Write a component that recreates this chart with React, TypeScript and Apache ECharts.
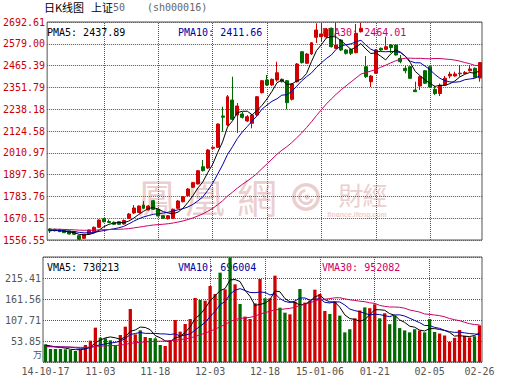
import React, { useEffect, useRef } from "react";
import * as echarts from "echarts";

const dates = [
  "2014-10-17", "2014-10-20", "2014-10-21", "2014-10-22", "2014-10-23", "2014-10-24", "2014-10-27", "2014-10-28", "2014-10-29", "2014-10-30", "2014-10-31",
  "2014-11-03", "2014-11-04", "2014-11-05", "2014-11-06", "2014-11-07", "2014-11-10", "2014-11-11", "2014-11-12", "2014-11-13", "2014-11-14",
  "2014-11-17", "2014-11-18", "2014-11-19", "2014-11-20", "2014-11-21", "2014-11-24", "2014-11-25", "2014-11-26", "2014-11-27", "2014-11-28",
  "2014-12-01", "2014-12-02", "2014-12-03", "2014-12-04", "2014-12-05", "2014-12-08", "2014-12-09", "2014-12-10", "2014-12-11", "2014-12-12",
  "2014-12-15", "2014-12-16", "2014-12-17", "2014-12-18", "2014-12-19", "2014-12-22", "2014-12-23", "2014-12-24", "2014-12-25", "2014-12-26",
  "2014-12-29", "2014-12-30", "2014-12-31", "2015-01-05", "2015-01-06", "2015-01-07", "2015-01-08", "2015-01-09", "2015-01-12", "2015-01-13",
  "2015-01-14", "2015-01-15", "2015-01-16", "2015-01-19", "2015-01-20", "2015-01-21", "2015-01-22", "2015-01-23", "2015-01-26", "2015-01-27",
  "2015-01-28", "2015-01-29", "2015-01-30", "2015-02-02", "2015-02-03", "2015-02-04", "2015-02-05", "2015-02-06", "2015-02-09", "2015-02-10",
  "2015-02-11", "2015-02-12", "2015-02-13", "2015-02-16", "2015-02-17", "2015-02-25", "2015-02-26",
];

const opens = [
  1613.9, 1612.3, 1612.3, 1608.7, 1603.5, 1599.8, 1579.0, 1565.4, 1587.8, 1599.8, 1622.7,
  1667.5, 1653.0, 1648.8, 1651.9, 1639.9, 1669.6, 1697.3, 1699.9, 1738.9, 1712.9,
  1761.4, 1716.5, 1683.2, 1667.5, 1669.6, 1721.8, 1756.1, 1787.4, 1831.2, 1848.4,
  1938.5, 1931.8, 2034.4, 2039.6, 2202.8, 2155.9, 2286.1, 2207.9, 2213.2, 2176.7,
  2164.7, 2207.9, 2324.2, 2390.4, 2364.3, 2390.4, 2394.0, 2386.7, 2289.8, 2381.5,
  2537.8, 2477.4, 2525.8, 2612.9, 2616.0, 2614.4, 2659.8, 2555.5, 2598.8, 2546.7,
  2550.3, 2532.6, 2642.1, 2459.7, 2381.5, 2425.2, 2555.5, 2550.3, 2572.7, 2572.7,
  2503.4, 2451.3, 2459.7, 2338.2, 2359.1, 2438.8, 2459.7, 2341.9, 2320.0, 2364.3,
  2411.2, 2411.2, 2423.0, 2424.0, 2438.8, 2451.3, 2400.8,
];

const closes = [
  1603.5, 1605.0, 1599.8, 1594.6, 1587.8, 1586.3, 1560.2, 1586.3, 1608.7, 1622.7, 1660.8,
  1651.9, 1647.7, 1638.4, 1638.4, 1658.2, 1692.0, 1723.3, 1733.7, 1721.8, 1733.7,
  1716.5, 1681.6, 1669.6, 1683.2, 1716.5, 1759.8, 1782.2, 1822.3, 1855.2, 1917.7,
  1917.7, 2025.6, 2039.6, 2161.0, 2196.0, 2303.3, 2185.6, 2254.9, 2196.0, 2199.1,
  2207.9, 2303.3, 2386.7, 2364.3, 2394.0, 2428.4, 2381.5, 2272.1, 2369.5, 2473.7,
  2480.5, 2525.8, 2584.7, 2650.9, 2630.1, 2654.6, 2563.9, 2572.7, 2546.7, 2529.5,
  2529.5, 2633.7, 2659.8, 2407.6, 2411.2, 2546.7, 2546.7, 2563.9, 2559.7, 2520.6,
  2485.7, 2438.8, 2399.2, 2329.4, 2407.6, 2373.2, 2353.9, 2320.0, 2362.0, 2400.0,
  2421.0, 2422.0, 2426.0, 2430.0, 2448.0, 2404.0, 2481.0,
];

const lows = [
  1593.0, 1600.8, 1598.2, 1593.0, 1585.2, 1582.6, 1558.0, 1561.8, 1585.2, 1598.2, 1619.1,
  1647.7, 1645.1, 1634.7, 1634.7, 1637.3, 1666.0, 1692.0, 1697.3, 1718.1, 1710.3,
  1712.9, 1679.0, 1666.0, 1663.4, 1666.0, 1718.1, 1752.0, 1783.2, 1827.5, 1845.8,
  1913.5, 1926.6, 2030.8, 2036.0, 2120.9, 2150.6, 2181.9, 2114.2, 2189.7, 2171.5,
  2138.6, 2202.8, 2320.0, 2359.1, 2359.1, 2381.5, 2377.3, 2237.7, 2283.5, 2377.3,
  2476.3, 2473.7, 2520.6, 2583.2, 2590.0, 2609.2, 2559.7, 2551.9, 2541.5, 2523.2,
  2520.6, 2529.5, 2637.9, 2400.8, 2353.9, 2421.6, 2541.5, 2546.7, 2531.1, 2518.0,
  2477.4, 2425.2, 2395.6, 2327.8, 2338.2, 2369.5, 2351.3, 2312.2, 2307.0, 2361.7,
  2399.2, 2407.6, 2407.6, 2421.6, 2433.6, 2403.3, 2381.5,
];

const highs = [
  1619.1, 1615.4, 1613.9, 1611.3, 1606.0, 1603.5, 1582.6, 1587.8, 1611.3, 1626.9, 1663.4,
  1671.2, 1663.4, 1653.0, 1655.6, 1663.4, 1697.3, 1738.9, 1736.3, 1759.8, 1738.9,
  1765.0, 1720.7, 1686.8, 1686.8, 1720.7, 1765.0, 1785.8, 1827.5, 1858.8, 1921.3,
  1973.4, 2030.8, 2043.8, 2163.7, 2251.2, 2312.2, 2407.6, 2270.5, 2223.6, 2207.9,
  2213.2, 2307.0, 2390.4, 2416.4, 2398.2, 2485.7, 2398.2, 2390.4, 2374.7, 2479.0,
  2541.5, 2531.1, 2588.4, 2685.8, 2685.8, 2661.4, 2664.0, 2688.9, 2604.0, 2551.9,
  2554.5, 2682.2, 2688.9, 2515.4, 2416.4, 2551.9, 2559.7, 2616.0, 2578.0, 2578.0,
  2520.6, 2463.3, 2463.3, 2381.5, 2411.2, 2442.5, 2463.3, 2359.1, 2372.1, 2411.2,
  2433.6, 2433.6, 2468.5, 2437.2, 2468.5, 2455.5, 2484.2,
];

// volume, in 万 (ten thousand lots)
const volumes = [
  45.3, 33.3, 33.3, 33.3, 32.5, 30.8, 28.2, 32.5, 43.6, 54.7, 88.0,
  62.4, 60.7, 55.6, 43.6, 69.2, 90.6, 135.9, 70.9, 81.2, 64.1,
  61.5, 60.7, 43.6, 41.0, 56.4, 107.7, 77.8, 97.4, 110.3, 164.1,
  159.0, 157.3, 194.9, 174.4, 229.1, 186.3, 268.0, 199.2, 148.7, 116.3,
  110.3, 150.4, 212.9, 163.3, 163.3, 221.4, 139.3, 126.5, 122.2, 154.7,
  187.2, 152.2, 157.3, 185.5, 174.4, 130.8, 123.1, 155, 119, 76,
  84, 112, 132, 140, 138, 148, 112, 125, 97, 118,
  87, 81, 76, 84, 81, 76, 110, 77, 73, 68,
  52, 62, 82, 67, 63, 66, 94,
];

// closes / volumes of the trading days before the first shown day (for the moving averages)
const priorCloses = [
  1602, 1608, 1615, 1621, 1618, 1612, 1606, 1603, 1610, 1617, 1622, 1626, 1620, 1614, 1619,
  1625, 1621, 1615, 1610, 1607, 1613, 1618, 1612, 1606, 1601, 1607, 1611, 1605, 1609,
];
const priorVolumes = [
  36, 39, 42, 37, 34, 40, 44, 41, 36, 33, 38, 42, 39, 36, 35,
  40, 45, 40, 36, 34, 37, 41, 38, 35, 37, 43, 46, 40, 42,
];

const maPeriods = [5, 10, 30];
const priceLegendValues = ["2437.89", "2411.66", "2464.01"];
const volumeLegendValues = ["730213", "696004", "952082"];

const priceAxis = { min: 1556.55, max: 2692.61, interval: 113.606 };
const volumeAxis = { min: 0, max: 269.265, interval: 53.853 };

const RED = "#d00000";
const GREEN = "#006a00";
const BLUE = "#0000a8";
const PINK = "#cc0066";
const MA_COLORS = ["#000000", BLUE, PINK];
const MONO = "'DejaVu Sans Mono', 'Liberation Mono', monospace";
const WM = "#ebcfcf";

function movingAverage(prior: number[], values: number[], n: number) {
  const all = prior.concat(values);
  const off = prior.length;
  return values.map((_, i) => {
    let s = 0;
    for (let k = off + i - n + 1; k <= off + i; k++) s += all[k];
    return +(s / n).toFixed(2);
  });
}

function dateLabel(value: string, index: number) {
  const [y, m, d] = value.split("-");
  const prevShown = index >= 11 ? dates[index - 11] : null;
  if (index === 0 || (prevShown && prevShown.slice(0, 4) !== y)) return `${y.slice(2)}-${m}-${d}`;
  return `${m}-${d}`;
}

export default function App() {
  const ref = useRef<HTMLDivElement>(null);

  useEffect(() => {
    if (!ref.current) return;
    const chart = echarts.init(ref.current, undefined, { renderer: "svg" });

    const dotted = { color: "#555", type: [1, 1] as any, width: 1 };
    const vLines = dates
      .map((d, i) => ({ d, i }))
      .filter(({ i }) => i > 0 && i % 11 === 0 && i < dates.length - 1)
      .map(({ d }) => ({ xAxis: d }));
    const markLine = {
      silent: true,
      symbol: ["none", "none"],
      label: { show: false },
      lineStyle: dotted,
      emphasis: { disabled: true },
      animation: false,
      z: 1,
      data: vLines,
    };

    const priceMAs = maPeriods.map((n) => movingAverage(priorCloses, closes, n));
    const volMAs = maPeriods.map((n) => movingAverage(priorVolumes, volumes, n));

    const legendText = (x: number, y: number, text: string, fill: string) => ({
      type: "text",
      x,
      y,
      z: 1,
      silent: true,
      style: { text, fill, font: `10px ${MONO}`, verticalAlign: "middle", textVerticalAlign: "middle" },
    });
    const legendX = [47, 178, 322];
    const wmText = (x: number, y: number, text: string, size: number) => ({
      type: "text",
      x,
      y,
      z: -5,
      silent: true,
      style: {
        text,
        fill: WM,
        font: `${size}px 'Noto Sans CJK TC'`,
        align: "center",
        textAlign: "center",
        verticalAlign: "middle",
        textVerticalAlign: "middle",
      },
    });

    const option: any = {
      animation: false,
      backgroundColor: "#ffffff",
      grid: [
        { left: 43, top: 22, width: 439, height: 218, show: true, borderColor: "#555", borderWidth: 1, backgroundColor: "transparent" },
        { left: 43, top: 257, width: 439, height: 105, show: true, borderColor: "#555", borderWidth: 1, backgroundColor: "transparent" },
      ],
      xAxis: [
        {
          type: "category",
          gridIndex: 0,
          data: dates,
          boundaryGap: true,
          axisLine: { show: false },
          axisTick: { show: false },
          axisLabel: { show: false },
          splitLine: { show: false },
        },
        {
          type: "category",
          gridIndex: 1,
          data: dates,
          boundaryGap: true,
          axisLine: { show: false },
          axisTick: { show: false },
          axisLabel: {
            interval: (i: number) => i % 11 === 0 || i === dates.length - 1,
            color: "#555",
            fontFamily: MONO,
            fontSize: 10,
            margin: 4,
            formatter: dateLabel,
          },
          splitLine: { show: false },
        },
      ],
      yAxis: [
        {
          type: "value",
          gridIndex: 0,
          ...priceAxis,
          axisLine: { show: false },
          axisTick: { show: false },
          axisLabel: {
            color: "#cc0000",
            fontFamily: MONO,
            fontSize: 10,
            margin: 2,
            formatter: (v: number) => (Math.floor(v * 100 + 1e-4) / 100).toFixed(2),
          },
          splitLine: { show: true, lineStyle: dotted },
        },
        {
          type: "value",
          gridIndex: 1,
          ...volumeAxis,
          axisLine: { show: false },
          axisTick: { show: false },
          axisLabel: {
            color: "#555",
            fontFamily: MONO,
            fontSize: 10,
            margin: 2,
            formatter: (v: number) => (v <= 0 || v > volumeAxis.max - 1 ? "" : v.toFixed(2)),
          },
          splitLine: { show: true, lineStyle: dotted },
        },
      ],
      series: [
        {
          type: "candlestick",
          xAxisIndex: 0,
          yAxisIndex: 0,
          barWidth: "70%",
          data: dates.map((_, i) => [opens[i], closes[i], lows[i], highs[i]]),
          itemStyle: { color: RED, color0: GREEN, borderColor: RED, borderColor0: GREEN, borderWidth: 1 },
          markLine,
          z: 2,
        },
        ...priceMAs.map((d, k) => ({
          type: "line",
          xAxisIndex: 0,
          yAxisIndex: 0,
          data: d,
          symbol: "none",
          lineStyle: { color: MA_COLORS[k], width: 1 },
          z: 3,
        })),
        {
          type: "bar",
          xAxisIndex: 1,
          yAxisIndex: 1,
          barWidth: "66%",
          data: volumes.map((v, i) => ({
            value: v,
            itemStyle: { color: closes[i] >= opens[i] ? RED : GREEN },
          })),
          markLine,
          z: 2,
        },
        ...volMAs.map((d, k) => ({
          type: "line",
          xAxisIndex: 1,
          yAxisIndex: 1,
          data: d,
          symbol: "none",
          lineStyle: { color: MA_COLORS[k], width: 1 },
          z: 3,
        })),
      ],
      graphic: [
        // title
        { type: "text", x: 44, y: 7, style: { text: "日K线图", fill: "#000", font: "11px 'Noto Sans CJK SC'", verticalAlign: "middle", textVerticalAlign: "middle" } },
        { type: "text", x: 91, y: 7, style: { text: "上证", fill: "#000", font: "11px 'Noto Sans CJK SC'", verticalAlign: "middle", textVerticalAlign: "middle" } },
        { type: "text", x: 113, y: 7, style: { text: "50", fill: "#666", font: `10px ${MONO}`, verticalAlign: "middle", textVerticalAlign: "middle" } },
        { type: "text", x: 147, y: 7, style: { text: "(sh000016)", fill: "#666", font: `10px ${MONO}`, verticalAlign: "middle", textVerticalAlign: "middle" } },
        // legends
        ...maPeriods.map((n, k) => legendText(legendX[k], 32, `PMA${n}: ${priceLegendValues[k]}`, MA_COLORS[k])),
        ...maPeriods.map((n, k) => legendText(legendX[k], 267, `VMA${n}: ${volumeLegendValues[k]}`, MA_COLORS[k])),
        // unit
        { type: "text", x: 42, y: 354, style: { text: "万", fill: "#555", font: "9px 'Noto Sans CJK SC'", align: "right", textAlign: "right", verticalAlign: "middle", textVerticalAlign: "middle" } },
        // watermark
        wmText(157, 196, "鳳", 40),
        wmText(205, 196, "凰", 40),
        wmText(257, 196, "網", 40),
        wmText(351, 194, "財", 25),
        wmText(375, 194, "經", 25),
        {
          type: "text",
          x: 357,
          y: 214,
          z: -5,
          silent: true,
          style: { text: "finance.ifeng.com", fill: WM, font: "bold 7px 'Liberation Sans'", align: "center", textAlign: "center", verticalAlign: "middle", textVerticalAlign: "middle" },
        },
        { type: "ring", z: -5, silent: true, shape: { cx: 306, cy: 197, r: 14, r0: 10.5 }, style: { fill: WM } },
        { type: "arc", z: -5, silent: true, shape: { cx: 306, cy: 197, r: 6.5, startAngle: 0.3, endAngle: 4.6 }, style: { stroke: WM, lineWidth: 3, fill: "none" } },
        { type: "circle", z: -5, silent: true, shape: { cx: 307, cy: 197, r: 2.5 }, style: { fill: WM } },
      ],
    };

    chart.setOption(option);
    return () => chart.dispose();
  }, []);

  return (
    <div
      ref={ref}
      style={{ position: "absolute", left: 0, top: 0, width: 530, height: 391, background: "#fff" }}
    />
  );
}
